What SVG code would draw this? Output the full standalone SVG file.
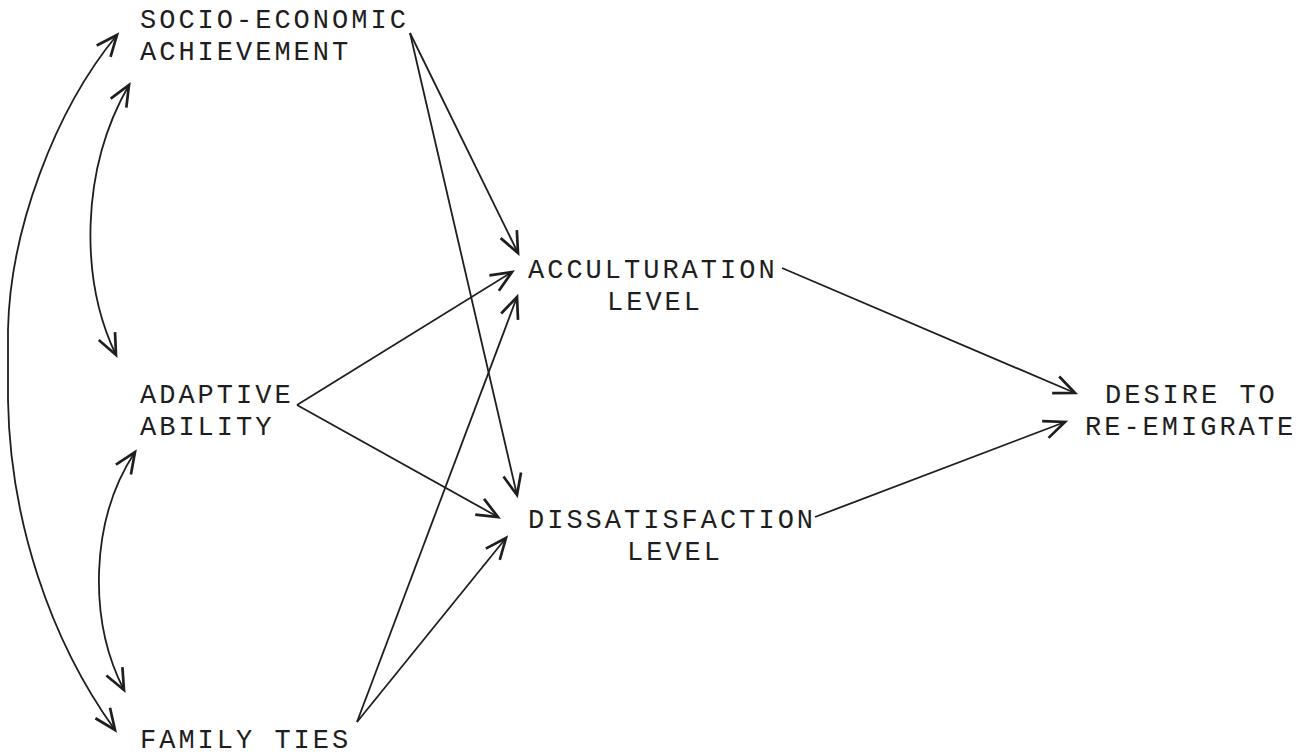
<svg xmlns="http://www.w3.org/2000/svg" width="1306" height="756" viewBox="0 0 1306 756">
<style>
text{font-family:"Liberation Mono","Courier New",monospace;font-size:27px;letter-spacing:3px;fill:#1e1e1e}
.ln{fill:none;stroke:#1e1e1e;stroke-width:1.8;marker-end:url(#ah)}
.bi{fill:none;stroke:#1e1e1e;stroke-width:1.8;marker-end:url(#ah);marker-start:url(#ah)}
</style>
<defs>
<marker id="ah" markerUnits="userSpaceOnUse" markerWidth="30" markerHeight="30" viewBox="-16 -10 20 20" refX="0" refY="0" orient="auto-start-reverse">
<path d="M-14,-6 L0,0 L-14,6" fill="none" stroke="#1e1e1e" stroke-width="1.8"/>
</marker>
</defs>
<rect width="1306" height="756" fill="#ffffff"/>
<g id="connectors">
<path class="ln" d="M410,33 L518,253"/>
<path class="ln" d="M410,33 L517,495"/>
<path class="ln" d="M297,405 L512,272"/>
<path class="ln" d="M297,405 L498,517"/>
<path class="ln" d="M357,722 L517,297"/>
<path class="ln" d="M357,722 L506,538"/>
<path class="ln" d="M782,268 L1075,393"/>
<path class="ln" d="M815,517 L1065,422"/>
<path class="bi" d="M117,35 C55,110 10,230 8,330 L8,400 C10,520 50,640 115,730"/>
<path class="bi" d="M129,85 C80,170 80,280 116,355"/>
<path class="bi" d="M135,452 C90,520 88,620 124,690"/>
</g>
<g id="socio"><text x="140" y="28">SOCIO-ECONOMIC</text><text x="140" y="60">ACHIEVEMENT</text></g>
<g id="adaptive"><text x="140" y="403">ADAPTIVE</text><text x="140" y="435">ABILITY</text></g>
<g id="family"><text x="140" y="748">FAMILY TIES</text></g>
<g id="acculturation"><text x="528" y="278">ACCULTURATION</text><text x="607" y="310">LEVEL</text></g>
<g id="dissatisfaction"><text x="528" y="528">DISSATISFACTION</text><text x="627" y="560">LEVEL</text></g>
<g id="desire"><text x="1105" y="403">DESIRE TO</text><text x="1085" y="435">RE-EMIGRATE</text></g>
</svg>
